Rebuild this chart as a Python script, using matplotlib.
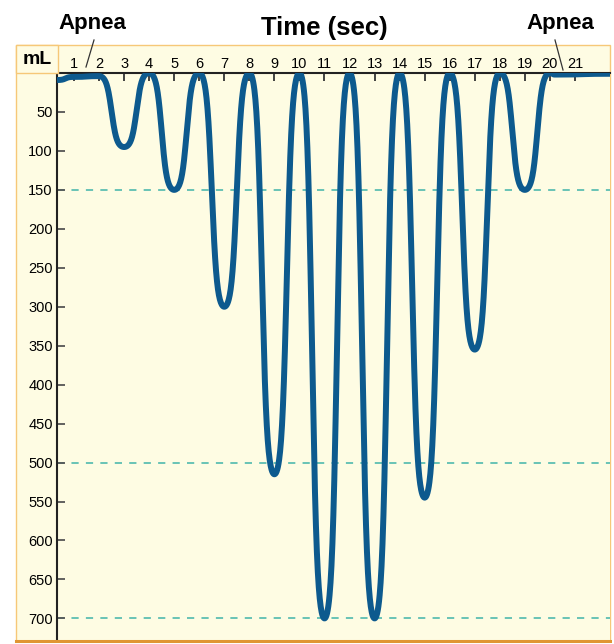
import numpy as np
import matplotlib
matplotlib.use("Agg")
import matplotlib.pyplot as plt
from matplotlib.patches import Rectangle
from matplotlib.lines import Line2D

# ---- data ----
times = [0.32, 1.0, 2, 3, 4, 5, 6, 7, 8, 9, 10, 11, 12, 13, 14, 15, 16, 17, 18, 19, 20, 20.2, 22.4]
volumes = [9, 5, 4, 95, 0, 150, 0, 300, 0, 515, 0, 700, 0, 700, 0, 545, 0, 355, 0, 150, 0, 2, 1]
ref_levels = [150, 500, 700]
x_ticks = list(range(1, 22))
y_ticks = list(range(50, 701, 50))

W, H = 614, 644
fig = plt.figure(figsize=(W / 100, H / 100), dpi=100)
fig.patch.set_facecolor("white")

def fx(px):
    return px / W

def fy(py):
    return 1 - py / H

BG = "#FEFCE3"
ORANGE = "#F6C878"
# outer panel
fig.add_artist(Rectangle((fx(16), fy(641)), fx(610) - fx(16), fy(45) - fy(641),
                         transform=fig.transFigure, facecolor=BG, edgecolor=ORANGE, lw=1.0, zorder=0))
# mL box
fig.add_artist(Rectangle((fx(16), fy(73)), fx(58) - fx(16), fy(45) - fy(73),
                         transform=fig.transFigure, facecolor=BG, edgecolor=ORANGE, lw=1.0, zorder=1))
# bottom darker line
fig.add_artist(Line2D([fx(16), fx(610)], [fy(641), fy(641)], transform=fig.transFigure,
                      color="#E09532", lw=2.2, zorder=2))

ax = fig.add_axes([fx(57), fy(641), fx(610) - fx(57), fy(73) - fy(641)])
ax.set_facecolor(BG)

# smooth rendering between read extremes (rounded, steep-sided easing)
K = 1.4
def ease(t):
    c = np.cos(np.pi * t)
    return 0.5 - 0.5 * np.tanh(K * c) / np.tanh(K)

xs, ys = [], []
for i in range(len(times) - 1):
    t = np.linspace(0, 1, 80)
    xs.append(times[i] + (times[i + 1] - times[i]) * t)
    ys.append(volumes[i] + (volumes[i + 1] - volumes[i]) * ease(t))
xs = np.concatenate(xs)
ys = np.concatenate(ys)

for lv in ref_levels:
    ax.axhline(lv, color="#5DBFB2", lw=1.3, ls=(0, (4, 4)), zorder=1)

ax.plot(xs, ys, color="#0D5A8E", lw=4.3, solid_capstyle="butt", solid_joinstyle="round", zorder=3)

ax.set_xlim(0.32, 22.4)
ax.set_ylim(729, 0)

ax.xaxis.tick_top()
ax.set_xticks(x_ticks)
ax.set_xticklabels([str(v) for v in x_ticks], fontsize=10.5, family="Liberation Sans")
ax.tick_params(axis="x", direction="in", length=6, width=1.3, color="#333333", pad=1.5)
ax.set_yticks(y_ticks)
ax.set_yticklabels([str(v) for v in y_ticks], fontsize=10.5, family="Liberation Sans")
ax.tick_params(axis="y", direction="in", length=6, width=1.3, color="#555555", pad=3)

for s in ["bottom", "right"]:
    ax.spines[s].set_visible(False)
ax.spines["top"].set_color("#222222")
ax.spines["top"].set_linewidth(1.5)
ax.spines["left"].set_color("#222222")
ax.spines["left"].set_linewidth(1.5)

# texts
fig.text(fx(37), fy(59), "mL", fontsize=14, fontweight="bold", family="Liberation Sans",
         ha="center", va="center")
fig.text(fx(92), fy(23), "Apnea", fontsize=16, fontweight="bold", family="Liberation Sans",
         ha="center", va="center")
fig.text(fx(560), fy(23), "Apnea", fontsize=16, fontweight="bold", family="Liberation Sans",
         ha="center", va="center")
fig.text(fx(324), fy(28), "Time (sec)", fontsize=18.5, fontweight="bold", family="Liberation Sans",
         ha="center", va="center")

fig.add_artist(Line2D([fx(94), fx(86)], [fy(40), fy(67)], transform=fig.transFigure,
                      color="#333333", lw=0.9))
fig.add_artist(Line2D([fx(555), fx(563)], [fy(40), fy(70)], transform=fig.transFigure,
                      color="#333333", lw=0.9))

fig.savefig("out.png", dpi=100)
